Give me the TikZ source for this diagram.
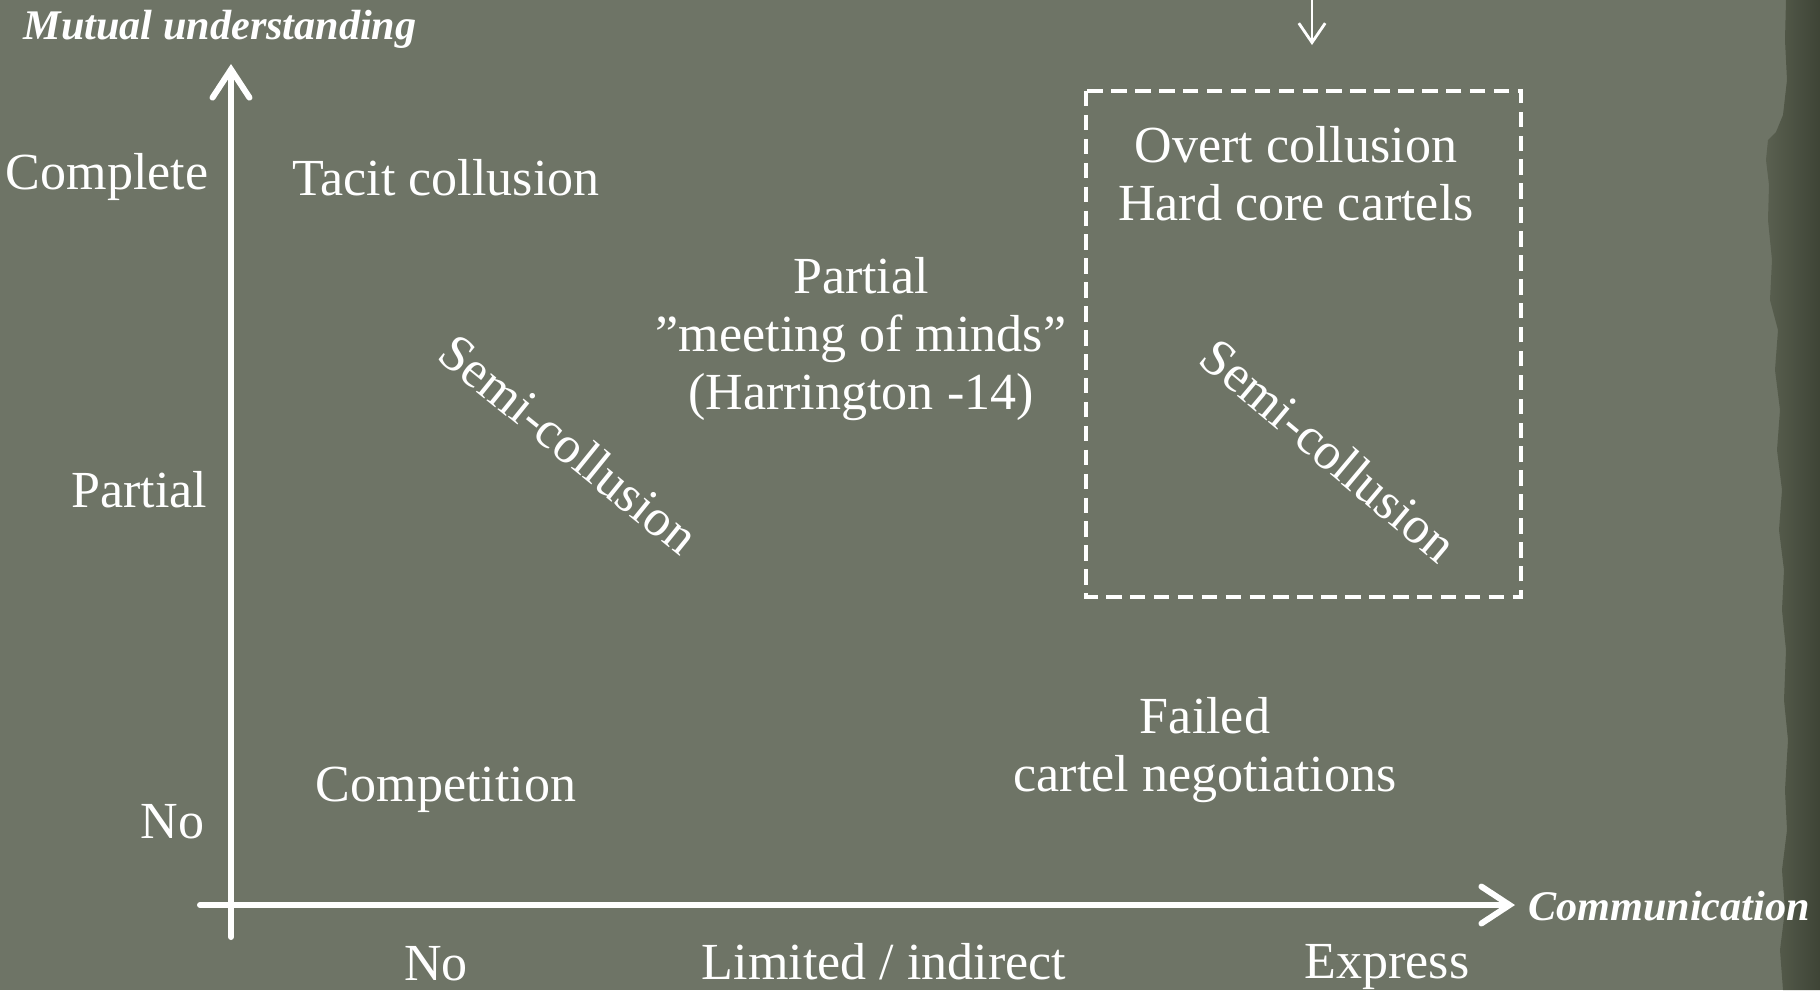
\documentclass[tikz,border=0pt]{standalone}
\usepackage{fontspec}
\setmainfont{Liberation Serif}
\usetikzlibrary{arrows.meta}
\definecolor{bg}{RGB}{110,116,102}
\definecolor{edgeA}{RGB}{90,96,80}
\definecolor{edgeB}{RGB}{62,68,54}
\tikzset{
  lbl/.style={text=white,inner sep=0pt,font=\fontsize{14.8}{16.5}\selectfont,align=center},
  axlbl/.style={text=white,inner sep=0pt,font=\fontsize{12}{14}\selectfont\bfseries\itshape},
  axisline/.style={draw=white,line width=1.7pt,line cap=round,-{Straight Barb[length=8pt,width=10.5pt,line cap=round]}},
  dbox/.style={draw=white,line width=1.05pt,dash pattern=on 4.4pt off 2.4pt},
  toparrow/.style={draw=white,line width=0.8pt,-{Straight Barb[length=5.5pt,width=7.5pt]}}
}
\begin{document}
\begin{tikzpicture}[x=0.01cm,y=-0.01cm]
\fill[bg] (0,0) rectangle (1820,990);
\useasboundingbox (0,0) rectangle (1820,990);
% torn right edge
\shade[left color=edgeA,right color=edgeB]
  (1786,0) -- (1785,40) -- (1787,80) -- (1783,115) -- (1776,132) -- (1768,140) -- (1766,160)
  -- (1769,185) -- (1768,220) -- (1772,260) -- (1770,300) -- (1778,330) -- (1775,370)
  -- (1780,410) -- (1777,450) -- (1782,490) -- (1779,530) -- (1784,570) -- (1782,610)
  -- (1786,650) -- (1784,700) -- (1788,740) -- (1785,790) -- (1787,830) -- (1782,870)
  -- (1785,910) -- (1780,950) -- (1783,990) -- (1820,990) -- (1820,0) -- cycle;
% axes
\coordinate (yb) at (231,937);
\coordinate (yt) at (231,64);
\coordinate (xl) at (200,905);
\coordinate (xr) at (1515,905);
\draw[axisline] (yb) -- (yt);
\draw[axisline] (xl) -- (xr);
% top arrow
\coordinate (ts) at (1312,-5);
\coordinate (te) at (1312,45);
\draw[toparrow] (ts) -- (te);
% dashed box
\draw[dbox] (1086,91) rectangle (1521,597);
% axis titles
\node[axlbl,anchor=west] (mu) at (23,29) {Mutual understanding};
\node[axlbl] (comm) at (1669,906) {Communication};
% y labels
\node[lbl,anchor=east] (ycomplete) at (209,177) {Complete};
\node[lbl,anchor=east] (ypartial) at (208,490) {Partial};
\node[lbl,anchor=east] (yno) at (205,822) {No};
% x labels
\node[lbl] (xno) at (436,964) {No};
\node[lbl] (xlim) at (884,962) {Limited / indirect};
\node[lbl] (xexp) at (1387,967) {Express};
% regions
\node[lbl] (tacit) at (446,178) {Tacit collusion};
\node[lbl] (meeting) at (861,339) {Partial\\”meeting of minds”\\(Harrington -14)};
\node[lbl,rotate=-39] (semi1) at (569,444) {Semi-collusion};
\node[lbl,rotate=-40] (semi2) at (1329,450) {Semi-collusion};
\node[lbl] (overt) at (1296,174) {Overt collusion\\Hard core cartels};
\node[lbl] (failed) at (1205,750) {Failed\\cartel negotiations};
\node[lbl] (comp) at (446,790) {Competition};
\end{tikzpicture}
\end{document}
